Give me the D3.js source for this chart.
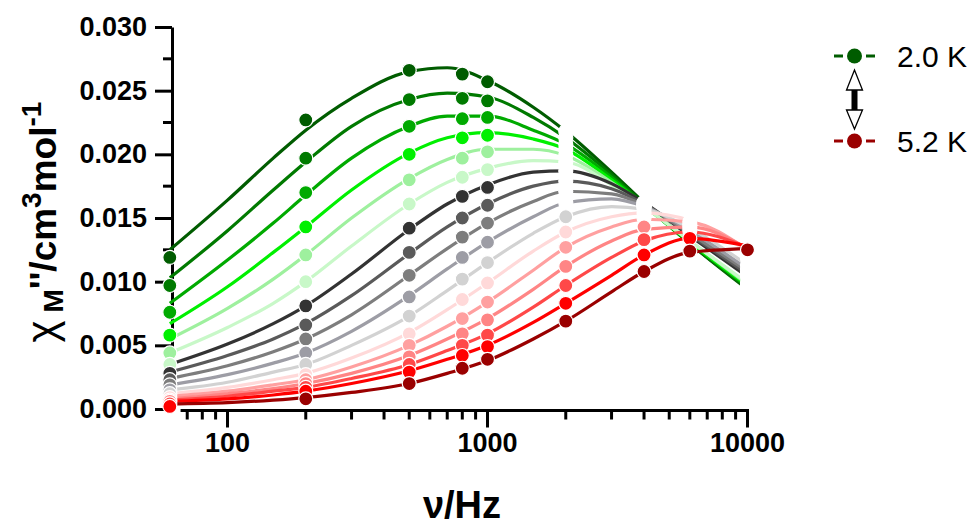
<!DOCTYPE html>
<html><head><meta charset="utf-8">
<script src="https://cdn.jsdelivr.net/npm/d3@7"></script>
<style>body{margin:0;background:#fff}svg{display:block}</style>
</head><body>
<svg id="c" width="975" height="525"></svg>
<script>
// ---- data ----
const temps = ["2.0","2.2","2.4","2.6","2.8","3.0","3.2","3.4","3.6","3.8","4.0","4.2","4.4","4.6","4.8","5.0","5.2"];
const colors = ["#005c00","#007a00","#00aa00","#00f000","#9ef09e","#c8f8c8","#333333","#5a5a5a","#7d7d7d","#9d9da5","#d2d2d2","#ffd9d9","#ffa0a0","#ff8585","#ff4848","#ff0000","#9a0000"];
const freqs = [60, 200, 500, 800, 1000, 2000, 4000, 6000, 10000];
const pts = [
 [0.0119,0.0227,0.0266,0.0263,0.0257,0.0218,0.0162,null,0.0095],
 [0.0097,0.0197,0.0243,0.0244,0.0242,0.0213,0.0161,null,0.0095],
 [0.0076,0.0170,0.0222,0.0228,0.0229,0.0208,0.0160,null,0.0096],
 [0.0058,0.0143,0.0200,0.0213,0.0215,0.0204,0.0160,null,0.0097],
 [0.0044,0.0121,0.0180,0.0197,0.0202,0.0199,0.0159,null,0.0098],
 [0.0035,0.0100,0.0161,0.0182,0.0188,0.0194,0.0159,null,0.0099],
 [0.0028,0.0081,0.0142,0.0167,0.0174,0.0187,0.0162,null,0.0104],
 [0.0023,0.0066,0.0123,0.0150,0.0160,0.0179,0.0161,null,0.0106],
 [0.0019,0.0055,0.0105,0.0135,0.0146,0.0171,0.0160,null,0.0108],
 [0.0015,0.0044,0.0088,0.0119,0.0131,0.0162,0.0159,null,0.0110],
 [0.0012,0.0035,0.0073,0.0102,0.0115,0.0151,0.0157,null,0.0113],
 [0.0009,0.0027,0.0059,0.0086,0.0099,0.0139,0.0154,0.0147,0.0118],
 [0.0007,0.0023,0.0050,0.0071,0.0084,0.0127,0.0150,0.0145,0.0120],
 [0.0006,0.0020,0.0041,0.0059,0.0070,0.0112,0.0143,0.0143,0.0121],
 [0.0004,0.0017,0.0035,0.0050,0.0058,0.0097,0.0133,0.0140,0.0122],
 [0.0002,0.0014,0.0029,0.0042,0.0049,0.0083,0.0121,0.0134,0.0123],
 [null,  0.0008,0.0020,0.0032,0.0039,0.0069,0.0108,0.0124,0.0125]
];
// fitted curves
const fitFreqs = [60,100,150,200,300,500,700,1000,1500,2000,3000,4000,6000,10000];
const fits = [
 [0.0125,0.0164,0.0197,0.0219,0.0244,0.0265,0.0268,0.0258,0.0237,0.0218,0.0186,0.0162,0.0130,0.0094],
 [0.0103,0.0140,0.0172,0.0194,0.0222,0.0243,0.0248,0.0245,0.0229,0.0213,0.0184,0.0161,0.0130,0.0095],
 [0.0083,0.0117,0.0146,0.0168,0.0197,0.0222,0.0230,0.0230,0.0219,0.0208,0.0182,0.0160,0.0131,0.0096],
 [0.0067,0.0096,0.0123,0.0143,0.0172,0.0201,0.0213,0.0217,0.0212,0.0204,0.0180,0.0160,0.0131,0.0097],
 [0.0055,0.0079,0.0102,0.0121,0.0150,0.0181,0.0196,0.0204,0.0204,0.0199,0.0178,0.0159,0.0132,0.0098],
 [0.0044,0.0064,0.0083,0.0100,0.0128,0.0161,0.0178,0.0189,0.0195,0.0194,0.0176,0.0159,0.0132,0.0099],
 [0.0035,0.0051,0.0067,0.0081,0.0106,0.0141,0.0161,0.0176,0.0186,0.0187,0.0177,0.0162,0.0136,0.0104],
 [0.0029,0.0042,0.0055,0.0067,0.0089,0.0122,0.0143,0.0161,0.0175,0.0179,0.0173,0.0161,0.0137,0.0106],
 [0.0024,0.0034,0.0045,0.0055,0.0074,0.0105,0.0126,0.0146,0.0163,0.0171,0.0169,0.0160,0.0138,0.0108],
 [0.0019,0.0027,0.0036,0.0044,0.0061,0.0089,0.0110,0.0131,0.0151,0.0162,0.0165,0.0159,0.0140,0.0110],
 [0.0015,0.0021,0.0029,0.0035,0.0050,0.0073,0.0093,0.0115,0.0138,0.0151,0.0159,0.0157,0.0142,0.0113],
 [0.0012,0.0017,0.0023,0.0028,0.0040,0.0060,0.0078,0.0099,0.0124,0.0139,0.0151,0.0154,0.0148,0.0124],
 [0.0010,0.0014,0.0019,0.0023,0.0033,0.0050,0.0065,0.0084,0.0109,0.0127,0.0143,0.0149,0.0147,0.0125],
 [0.0008,0.0012,0.0016,0.0020,0.0028,0.0042,0.0055,0.0071,0.0094,0.0112,0.0132,0.0141,0.0143,0.0126],
 [0.0007,0.0010,0.0014,0.0017,0.0024,0.0035,0.0046,0.0059,0.0080,0.0097,0.0119,0.0132,0.0139,0.0127],
 [0.0006,0.0008,0.0011,0.0014,0.0020,0.0030,0.0039,0.0050,0.0068,0.0083,0.0105,0.0121,0.0134,0.0128],
 [0.0004,0.0005,0.0007,0.0009,0.0013,0.0020,0.0028,0.0038,0.0055,0.0069,0.0092,0.0108,0.0123,0.0126]
];
const yTicks = [0, 0.005, 0.010, 0.015, 0.020, 0.025, 0.030];
const xTickLabels = [100, 1000, 10000];
const legendItems = [{label:"2.0 K", idx:0}, {label:"5.2 K", idx:16}];
// index in freqs from which symbols of a series are masked (drawn white) in the original figure
const maskFrom = [5,5,5,5,5,5,5,5,5,5,6,6,6,7,7,8,9];

// ---- drawing ----
const svg = d3.select("#c");
const font = "'Liberation Sans', Arial, sans-serif";
const x = d3.scaleLog().domain([100, 10000]).range([227.5, 747.5]);
const y = d3.scaleLinear().domain([0, 0.030]).range([409, 27]);
const xAxisY = 410.5, yAxisX = 172;

// y axis
const ya = svg.append("g").attr("transform", `translate(${yAxisX},0)`)
  .call(d3.axisLeft(y).tickValues(yTicks).tickFormat(d3.format(".3f")).tickSize(17).tickSizeOuter(0).tickPadding(8));
ya.select(".domain").attr("stroke", "#000").attr("stroke-width", 3);
ya.selectAll(".tick line").attr("stroke", "#000").attr("stroke-width", 3);
ya.selectAll(".tick text").attr("font-family", font).attr("font-weight", "bold").attr("font-size", 27).attr("fill", "#000");
const yMinor = d3.range(0.0025, 0.030, 0.005);
svg.append("g").selectAll("line").data(yMinor).join("line")
  .attr("x1", yAxisX - 9).attr("x2", yAxisX).attr("y1", d => y(d)).attr("y2", d => y(d))
  .attr("stroke", "#000").attr("stroke-width", 3);

// x axis
const xa = svg.append("g").attr("transform", `translate(0,${xAxisY})`);
xa.append("line").attr("x1", x(66)).attr("x2", x(10000) + 1.5).attr("stroke", "#000").attr("stroke-width", 3);
const minor = [];
[10, 100, 1000].forEach(d => { for (let k = 2; k <= 9; k++) { const v = d * k; if (v >= 70 && v < 10000) minor.push(v); } });
xa.selectAll(".mn").data(minor).join("line").attr("class","mn")
  .attr("x1", d => x(d)).attr("x2", d => x(d)).attr("y1", 0).attr("y2", 9)
  .attr("stroke", "#000").attr("stroke-width", 3);
xa.selectAll(".mj").data(xTickLabels).join("line").attr("class","mj")
  .attr("x1", d => x(d)).attr("x2", d => x(d)).attr("y1", 0).attr("y2", 17)
  .attr("stroke", "#000").attr("stroke-width", 3);
xa.selectAll("text").data(xTickLabels).join("text")
  .attr("x", d => x(d)).attr("y", 41).attr("text-anchor", "middle")
  .attr("font-family", font).attr("font-weight", "bold").attr("font-size", 27).text(d => d);

// axis titles
svg.append("text").attr("x", 462).attr("y", 518).attr("text-anchor", "middle")
  .attr("font-family", font).attr("font-weight", "bold").attr("font-size", 38).text("ν/Hz");
const yt = svg.append("text").attr("transform", "translate(56,222) rotate(-90)").attr("text-anchor", "middle")
  .attr("font-family", font).attr("font-weight", "bold").attr("font-size", 37);
yt.append("tspan").attr("font-weight", "normal").attr("font-size", 42).text("χ");
yt.append("tspan").attr("font-size", 28).attr("dy", 7).text(" M");
yt.append("tspan").attr("dy", -7).text("''/cm");
yt.append("tspan").attr("font-size", 28).attr("dy", -15).text("3");
yt.append("tspan").attr("dy", 15).text("mol");
yt.append("tspan").attr("font-size", 28).attr("dy", -15).text("-1");

// fitted curves
const line = d3.line().x(d => x(d[0])).y(d => y(d[1])).curve(d3.curveMonotoneX);
svg.append("g").selectAll("path").data(fits).join("path")
  .attr("d", f => line(fitFreqs.map((fr, i) => [fr, f[i]])))
  .attr("fill", "none").attr("stroke", (f, i) => colors[i]).attr("stroke-width", 3.2);

// symbols
const sym = [];
pts.forEach((s, si) => s.forEach((v, fi) => { if (v !== null) sym.push({si, fi, v}); }));
svg.append("g").selectAll("circle").data(sym).join("circle")
  .attr("cx", d => x(freqs[d.fi])).attr("cy", d => y(d.v)).attr("r", 7)
  .attr("fill", d => d.fi >= maskFrom[d.si] ? "#fff" : colors[d.si])
  .attr("stroke", "#fff").attr("stroke-width", 1.2);

// legend
const lg = svg.append("g");
const ly = [56, 141];
legendItems.forEach((it, k) => {
  const c = colors[it.idx];
  lg.append("line").attr("x1", 834).attr("x2", 843).attr("y1", ly[k]).attr("y2", ly[k]).attr("stroke", c).attr("stroke-width", 3);
  lg.append("line").attr("x1", 866).attr("x2", 875).attr("y1", ly[k]).attr("y2", ly[k]).attr("stroke", c).attr("stroke-width", 3);
  lg.append("circle").attr("cx", 854.5).attr("cy", ly[k]).attr("r", 7.5).attr("fill", c);
  lg.append("text").attr("x", 897).attr("y", ly[k] + 10.5).attr("font-family", font).attr("font-size", 30).text(it.label);
});
// double arrow between legend entries
lg.append("rect").attr("x", 851.5).attr("y", 87).attr("width", 6).attr("height", 26).attr("rx", 3).attr("fill", "#000");
lg.append("path").attr("d", "M854.5,70 L846.5,90 L862.5,90 Z").attr("fill", "#fff").attr("stroke", "#000").attr("stroke-width", 1.3);
lg.append("path").attr("d", "M846.5,110 L862.5,110 L854.5,129 Z").attr("fill", "#fff").attr("stroke", "#000").attr("stroke-width", 1.3);
</script>
</body></html>
